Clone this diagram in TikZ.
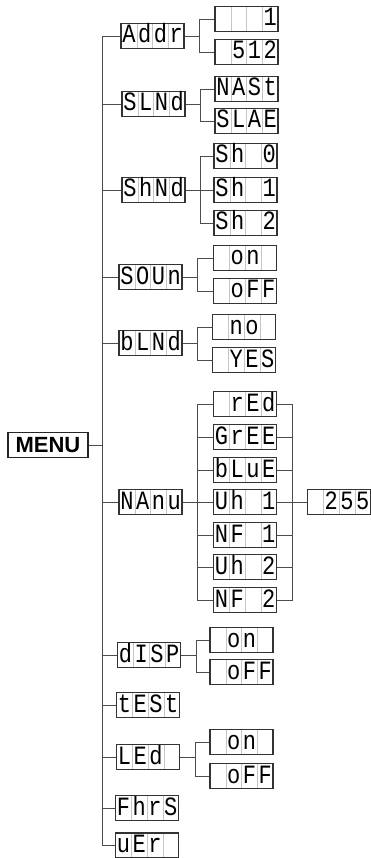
\documentclass[tikz,border=0pt]{standalone}
\usepackage{fontspec}
\usepackage{tikz}
\newfontfamily\lcdfont{Liberation Mono}
\newfontfamily\menufont{Liberation Sans}
\newcommand{\lcdcell}[1]{\makebox[15.75pt]{\scalebox{1}[1.2]{#1}}}
\newcommand{\lcdtext}[4]{\lcdcell{#1}\lcdcell{#2}\lcdcell{#3}\lcdcell{#4}}

\begin{document}
\begin{tikzpicture}[x=1pt, y=-1pt,
  lcd/.style={rectangle, draw=black!80, line width=1.1pt, minimum width=63pt, minimum height=25pt, inner sep=0pt, text height=15pt, text depth=1pt, font=\lcdfont\fontsize{22}{22}\selectfont,
    path picture={\foreach \k in {1,2,3} \draw[gray!45, line width=0.5pt] ([xshift=\k*15.75pt]path picture bounding box.south west) -- ([xshift=\k*15.75pt]path picture bounding box.north west);}},
  menubox/.style={rectangle, draw=black!85, line width=1.3pt, minimum width=80pt, minimum height=25pt, inner sep=0pt, font=\menufont\bfseries\fontsize{22}{22}\selectfont},
  wire/.style={draw=black!70, line width=0.8pt}
]
\useasboundingbox (0,0) rectangle (371,858);

% Root
\node[menubox] (menu) at (48,445) {MENU};

% Main menu column
\node[lcd] (addr) at (152.5,36) {\lcdtext{A}{d}{d}{r}};
\node[lcd] (slnd) at (153.5,104) {\lcdtext{S}{L}{N}{d}};
\node[lcd] (shnd) at (153.5,190) {\lcdtext{S}{h}{N}{d}};
\node[lcd] (soun) at (150.5,277) {\lcdtext{S}{O}{U}{n}};
\node[lcd] (blnd) at (150.5,343) {\lcdtext{b}{L}{N}{d}};
\node[lcd] (manu) at (150.5,502) {\lcdtext{N}{A}{n}{u}};
\node[lcd] (disp) at (149,655) {\lcdtext{d}{I}{S}{P}};
\node[lcd] (test) at (148,705) {\lcdtext{t}{E}{S}{t}};
\node[lcd] (led) at (148,757) {\lcdtext{L}{E}{d}{}};
\node[lcd] (fhrs) at (147,808) {\lcdtext{F}{h}{r}{S}};
\node[lcd] (ver) at (147,845.5) {\lcdtext{u}{E}{r}{}};

% Sub items
\node[lcd] (addr1) at (246.5,19) {\lcdtext{}{}{}{1}};
\node[lcd] (addr2) at (246.5,52) {\lcdtext{}{5}{1}{2}};
\node[lcd] (nast) at (246.5,89) {\lcdtext{N}{A}{S}{t}};
\node[lcd] (slae) at (246.5,121) {\lcdtext{S}{L}{A}{E}};
\node[lcd] (sh0) at (245.5,156) {\lcdtext{S}{h}{}{0}};
\node[lcd] (sh1) at (245.5,190) {\lcdtext{S}{h}{}{1}};
\node[lcd] (sh2) at (245.5,223) {\lcdtext{S}{h}{}{2}};
\node[lcd] (soun-on) at (245,258) {\lcdtext{}{o}{n}{}};
\node[lcd] (soun-off) at (245,291) {\lcdtext{}{o}{F}{F}};
\node[lcd] (blnd-no) at (244,327) {\lcdtext{}{n}{o}{}};
\node[lcd] (blnd-yes) at (244,360) {\lcdtext{}{Y}{E}{S}};
\node[lcd] (red) at (245,404) {\lcdtext{}{r}{E}{d}};
\node[lcd] (gree) at (245,437) {\lcdtext{G}{r}{E}{E}};
\node[lcd] (blue) at (245,470) {\lcdtext{b}{L}{u}{E}};
\node[lcd] (uh1) at (245,502) {\lcdtext{U}{h}{}{1}};
\node[lcd] (nf1) at (245,535) {\lcdtext{N}{F}{}{1}};
\node[lcd] (uh2) at (245,567) {\lcdtext{U}{h}{}{2}};
\node[lcd] (nf2) at (245,600) {\lcdtext{N}{F}{}{2}};
\node[lcd] (val) at (339,502) {\lcdtext{}{2}{5}{5}};
\node[lcd] (disp-on) at (241.5,640) {\lcdtext{}{o}{n}{}};
\node[lcd] (disp-off) at (241.5,672) {\lcdtext{}{o}{F}{F}};
\node[lcd] (led-on) at (241.5,742) {\lcdtext{}{o}{n}{}};
\node[lcd] (led-off) at (241.5,776) {\lcdtext{}{o}{F}{F}};

% Trunk
\coordinate (trunk) at (102.5,445);
\draw[wire] (menu.east) -- (trunk);
\draw[wire] (addr.west -| trunk) -- (ver.west -| trunk);
\foreach \m in {addr,slnd,shnd,soun,blnd,manu,disp,test,led,fhrs,ver}
  \draw[wire] (\m.west) -- (\m.west -| trunk);

% Branches
\foreach \p in {addr,slnd,shnd,soun,blnd,manu,disp,led} {
  \path (\p.east) ++(15,0) coordinate (\p-b);
  \draw[wire] (\p.east) -- (\p-b);
}
\foreach \c/\p in {addr1/addr,addr2/addr,nast/slnd,slae/slnd,sh0/shnd,sh1/shnd,sh2/shnd,
    soun-on/soun,soun-off/soun,blnd-no/blnd,blnd-yes/blnd,red/manu,gree/manu,blue/manu,
    uh1/manu,nf1/manu,uh2/manu,nf2/manu,disp-on/disp,disp-off/disp,led-on/led,led-off/led}
  \draw[wire] (\c.west) -| (\p-b);

% Right side of MAnu
\coordinate (manu-r) at (292,502);
\foreach \c in {red,gree,blue,uh1,nf1,uh2,nf2}
  \draw[wire] (\c.east) -| (manu-r);
\draw[wire] (manu-r) -- (val.west);
\end{tikzpicture}
\end{document}
